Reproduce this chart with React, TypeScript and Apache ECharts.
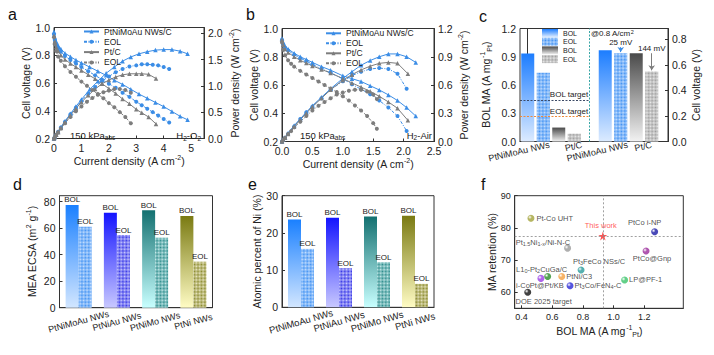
import React, { useEffect, useRef } from 'react';
import * as echarts from 'echarts';

const FONT = '"Liberation Sans", Arial, Helvetica, sans-serif';
const INK = '#222';
const BLUE = '#3b8de6';
const GRAY = '#7d7d7d';

// ---------- panel a : H2-O2 polarization / power ----------
const aBolI = [0, 0.03, 0.08, 0.15, 0.25, 0.4, 0.6, 0.8, 1.0, 1.3, 1.6, 1.9, 2.2, 2.5, 2.8, 3.1, 3.4, 3.7, 4.0, 4.3, 4.6, 4.87];
const aBolV = [0.97, 0.93, 0.9, 0.87, 0.845, 0.815, 0.79, 0.765, 0.745, 0.715, 0.685, 0.655, 0.62, 0.59, 0.555, 0.52, 0.49, 0.46, 0.43, 0.395, 0.36, 0.335];
const aBolP = [0, 0.03, 0.07, 0.13, 0.21, 0.33, 0.47, 0.61, 0.74, 0.93, 1.09, 1.24, 1.36, 1.47, 1.55, 1.61, 1.65, 1.68, 1.69, 1.69, 1.66, 1.61];
const aEolI = [0, 0.03, 0.08, 0.15, 0.25, 0.4, 0.6, 0.8, 1.0, 1.25, 1.5, 1.75, 2.0, 2.25, 2.5, 2.75, 3.0, 3.2, 3.4, 3.6, 3.8, 4.0, 4.2];
const aEolV = [0.95, 0.91, 0.875, 0.85, 0.825, 0.795, 0.765, 0.74, 0.715, 0.685, 0.655, 0.625, 0.595, 0.565, 0.53, 0.5, 0.465, 0.44, 0.415, 0.39, 0.365, 0.34, 0.315];
const aEolP = [0, 0.03, 0.07, 0.13, 0.21, 0.32, 0.46, 0.59, 0.71, 0.85, 0.98, 1.09, 1.18, 1.26, 1.32, 1.37, 1.39, 1.41, 1.41, 1.4, 1.39, 1.36, 1.32];
const aPtcI = [0, 0.03, 0.08, 0.15, 0.25, 0.4, 0.6, 0.8, 1.0, 1.25, 1.5, 1.75, 2.0, 2.25, 2.5, 2.75, 3.0, 3.2, 3.45, 3.72];
const aPtcV = [0.94, 0.9, 0.86, 0.83, 0.8, 0.77, 0.74, 0.715, 0.69, 0.66, 0.63, 0.595, 0.56, 0.525, 0.485, 0.45, 0.41, 0.385, 0.355, 0.305];
const aPtcP = [0, 0.03, 0.07, 0.12, 0.2, 0.31, 0.44, 0.57, 0.69, 0.82, 0.94, 1.04, 1.11, 1.17, 1.21, 1.23, 1.23, 1.23, 1.22, 1.14];
const aPtcEolI = [0, 0.03, 0.08, 0.15, 0.25, 0.4, 0.6, 0.8, 1.0, 1.2, 1.4, 1.6, 1.8, 2.0, 2.2, 2.4, 2.6, 2.8];
const aPtcEolV = [0.93, 0.88, 0.83, 0.79, 0.76, 0.72, 0.68, 0.645, 0.61, 0.58, 0.55, 0.52, 0.49, 0.455, 0.425, 0.39, 0.355, 0.31];
const aPtcEolP = [0, 0.03, 0.07, 0.12, 0.19, 0.29, 0.41, 0.52, 0.61, 0.7, 0.77, 0.83, 0.88, 0.91, 0.94, 0.94, 0.92, 0.87];

// ---------- panel b : H2-Air ----------
const bBolI = [0, 0.02, 0.05, 0.1, 0.2, 0.3, 0.4, 0.5, 0.65, 0.8, 1.0, 1.15, 1.3, 1.45, 1.6, 1.75, 1.9, 2.05, 2.2];
const bBolV = [0.93, 0.9, 0.875, 0.855, 0.825, 0.8, 0.78, 0.76, 0.73, 0.705, 0.665, 0.645, 0.625, 0.595, 0.565, 0.53, 0.49, 0.44, 0.38];
const bBolP = [0, 0.02, 0.04, 0.09, 0.17, 0.24, 0.31, 0.38, 0.47, 0.56, 0.67, 0.74, 0.81, 0.86, 0.9, 0.93, 0.93, 0.9, 0.84];
const bEolI = [0, 0.02, 0.05, 0.1, 0.2, 0.3, 0.4, 0.5, 0.65, 0.8, 1.0, 1.15, 1.3, 1.45, 1.6, 1.75, 1.9, 2.05];
const bEolV = [0.92, 0.89, 0.865, 0.845, 0.815, 0.79, 0.77, 0.745, 0.715, 0.685, 0.645, 0.605, 0.57, 0.535, 0.49, 0.44, 0.38, 0.275];
const bEolP = [0, 0.02, 0.04, 0.08, 0.16, 0.24, 0.31, 0.37, 0.46, 0.55, 0.64, 0.7, 0.74, 0.77, 0.78, 0.77, 0.72, 0.56];
const bPtcI = [0, 0.02, 0.05, 0.1, 0.2, 0.3, 0.4, 0.5, 0.65, 0.8, 1.0, 1.15, 1.3, 1.45, 1.6, 1.75, 1.9, 2.07];
const bPtcV = [0.92, 0.885, 0.855, 0.83, 0.8, 0.775, 0.755, 0.735, 0.71, 0.685, 0.645, 0.615, 0.585, 0.555, 0.52, 0.48, 0.435, 0.35];
const bPtcP = [0, 0.02, 0.04, 0.08, 0.16, 0.23, 0.3, 0.37, 0.46, 0.55, 0.65, 0.71, 0.76, 0.8, 0.83, 0.84, 0.83, 0.72];
const bPtcEolI = [0, 0.02, 0.05, 0.1, 0.15, 0.2, 0.3, 0.4, 0.5, 0.6, 0.7, 0.8, 0.9, 1.0, 1.1, 1.2, 1.3, 1.4, 1.5, 1.56];
const bPtcEolV = [0.9, 0.85, 0.81, 0.775, 0.75, 0.73, 0.7, 0.675, 0.65, 0.625, 0.6, 0.575, 0.55, 0.52, 0.49, 0.455, 0.42, 0.38, 0.33, 0.29];
const bPtcEolP = [0, 0.02, 0.04, 0.08, 0.11, 0.15, 0.21, 0.27, 0.33, 0.38, 0.42, 0.46, 0.5, 0.52, 0.54, 0.55, 0.55, 0.53, 0.5, 0.45];

// ---------- panel c ----------
const cGroups = ['PtNiMoAu NWs', 'Pt/C'];
const cMaBol = [0.935, 0.148];
const cMaEol = [0.73, 0.083];
const cVoltBol = [0.716, 0.692];
const cVoltEol = [0.691, 0.548];
const cTargets = [0.44, 0.264];
const cTargetNames = ['BOL target', 'EOL target'];
const cLossLabels = ['25 mV', '144 mV'];

// ---------- panels d / e ----------
const deCats = ['PtNiMoAu NWs', 'PtNiAu NWs', 'PtNiMo NWs', 'PtNi NWs'];
const dBol = [77.5, 71.7, 73.5, 69.2];
const dEol = [61.1, 54.8, 52.8, 34.7];
const eBol = [23.6, 24.1, 24.4, 24.6];
const eEol = [15.7, 10.5, 12.1, 6.3];

// ---------- panel f ----------
const fLabels = ['Pt-Co UHT', 'This work', 'PtCo i-NP', 'Pt{s|1.5}Ni{s|1-x}/Ni-N-C', 'PtCo@Gnp', 'Pt{s|3}FeCo NSs/C',
  'L1{s|0}-Pt{s|2}CuGa/C', 'PtNi/C3', 'i-CoPt@Pt/KB', 'Pt{s|3}Co/FeN{s|4}-C', 'LP@PF-1', 'DOE 2025 target'];
const fMA = [0.461, 0.93, 1.268, 0.70, 1.212, 0.788, 0.57, 0.662, 0.526, 0.716, 1.072, 0.44];
const fRet = [83, 77.5, 78.8, 73.7, 72.8, 66.9, 64.9, 64.9, 64.3, 62, 63.8, 60];
const fColors = ['#a3a33a', '#ff2a2a', '#1c1ca6', '#9a9a9a', '#9b2c9b', '#2a9c9c', '#2a8c2a', '#f5a040', '#9a40e6', '#2a2ad6', '#3ac46a', '#111111'];

const STAR = 'path://M50,0 L61,35 L98,35 L68,57 L79,91 L50,70 L21,91 L32,57 L2,35 L39,35 Z';

const grad = (top: string, bottom: string) => ({
  type: 'linear', x: 0, y: 0, x2: 0, y2: 1,
  colorStops: [{ offset: 0, color: top }, { offset: 1, color: bottom }],
});
const hatch = (c: string) => ({
  symbol: 'rect', symbolSize: 1, color: c,
  dashArrayX: [[1, 1], [0, 1, 1, 0]], dashArrayY: [1, 0], rotation: Math.PI / 4,
});
const ball = (c: string) => ({
  type: 'radial', x: 0.35, y: 0.35, r: 0.8,
  colorStops: [{ offset: 0, color: '#ffffff' }, { offset: 0.35, color: c }, { offset: 1, color: c }],
});
const pairs = (xs: number[], ys: number[]) => xs.map((x, k) => [x, ys[k]]);
const strip = (n: string) => n.split('|')[0];

function buildOption() {
  const rich = {
    sup: { fontSize: 7, verticalAlign: 'top', fontFamily: FONT, color: INK, lineHeight: 8 },
    sub: { fontSize: 7, verticalAlign: 'bottom', fontFamily: FONT, color: INK, lineHeight: 8 },
  };
  const nameStyle = { fontSize: 10.5, color: INK, fontFamily: FONT, lineHeight: 14, rich };
  const axLine = { show: true, lineStyle: { color: '#333', width: 1 } };
  const tick = (extra: any = {}) => ({ show: true, inside: true, length: 3, lineStyle: { color: '#333', width: 1 }, ...extra });
  const lbl = (extra: any = {}) => ({ color: INK, fontSize: 10.5, fontFamily: FONT, margin: 4, ...extra });
  const fix1 = (v: number) => v.toFixed(1);
  const common = { splitLine: { show: false }, axisLine: axLine, nameTextStyle: nameStyle, nameMoveOverlap: false };

  const grids = [
    { left: 54, top: 27.5, width: 150, height: 111 },
    { left: 282, top: 28.5, width: 152, height: 113 },
    { left: 520, top: 28.5, width: 148, height: 113 },
    { left: 59.5, top: 195.7, width: 153, height: 112 },
    { left: 282, top: 195.7, width: 152, height: 111.6 },
    { left: 514.7, top: 195.7, width: 168.6, height: 112.6 },
  ].map((g) => ({ ...g, show: true, borderColor: '#333', borderWidth: 1, backgroundColor: 'rgba(0,0,0,0)', containLabel: false, outerBoundsMode: 'none' }));

  const curName = 'Current density (A cm{sup|-2})';
  const aXt = [0, 1, 2, 3, 4, 5];
  const aRt = [0, 0.5, 1, 1.5, 2];
  const cLabelPos = [1.4, 3.5, 6.45, 8];
  const cLabelText = [cGroups[0], cGroups[1], cGroups[0], cGroups[1]];
  const fXt = [0.4, 0.6, 0.8, 1.0, 1.2];
  const fYt = [60, 70, 80, 90];
  const dYt = [0, 20, 40, 60, 80];
  const cRt = [0, 0.2, 0.4, 0.6, 0.8];

  const xAxis: any[] = [
    { ...common, type: 'value', gridIndex: 0, min: 0, max: 5.47, interval: 1,
      axisTick: tick({ customValues: aXt }), axisLabel: lbl({ customValues: aXt, formatter: (v: number) => String(v) }),
      name: curName, nameLocation: 'middle', nameGap: 15 },
    { ...common, type: 'value', gridIndex: 1, min: 0, max: 2.5, interval: 0.5,
      axisTick: tick(), axisLabel: lbl({ formatter: fix1 }),
      name: curName, nameLocation: 'middle', nameGap: 15 },
    { ...common, type: 'value', gridIndex: 2, min: -0.5, max: 9.05, interval: 0.5,
      axisTick: { show: false },
      axisLabel: lbl({ customValues: cLabelPos, rotate: 13, fontSize: 9, margin: 3,
        formatter: (v: number) => { const k = cLabelPos.findIndex((p) => Math.abs(p - v) < 1e-6); return k >= 0 ? cLabelText[k] : ''; } }) },
    { ...common, type: 'category', gridIndex: 3, data: deCats, axisTick: { show: false },
      axisLabel: lbl({ rotate: 15, interval: 0, align: 'center', verticalAlign: 'middle', margin: 14, fontSize: 9 }) },
    { ...common, type: 'category', gridIndex: 4, data: deCats, axisTick: { show: false },
      axisLabel: lbl({ rotate: 16, interval: 0, align: 'center', verticalAlign: 'middle', margin: 14, fontSize: 9.5 }) },
    { ...common, type: 'value', gridIndex: 5, min: 0.355, max: 1.455,
      axisTick: tick({ customValues: fXt }), axisLabel: lbl({ customValues: fXt, formatter: fix1, fontSize: 9 }),
      name: 'BOL MA (A mg{sup|-1}{sub|Pt})', nameLocation: 'middle', nameGap: 16 },
  ];

  const yAxis: any[] = [
    { ...common, type: 'value', gridIndex: 0, min: 0.2, max: 1.0, interval: 0.2, axisTick: tick(),
      axisLabel: lbl({ formatter: fix1 }), name: 'Cell voltage (V)', nameLocation: 'middle', nameRotate: 90, nameGap: 21 },
    { ...common, type: 'value', gridIndex: 0, position: 'right', min: 0, max: 2.11, interval: 0.5,
      axisTick: tick({ customValues: aRt }), axisLabel: lbl({ customValues: aRt, formatter: fix1 }),
      name: 'Power density (W cm{sup|-2})', nameLocation: 'middle', nameRotate: 90, nameGap: 24 },
    { ...common, type: 'value', gridIndex: 1, min: 0.2, max: 1.0, interval: 0.2, axisTick: tick(),
      axisLabel: lbl({ formatter: fix1 }), name: 'Cell voltage (V)', nameLocation: 'middle', nameRotate: 90, nameGap: 21 },
    { ...common, type: 'value', gridIndex: 1, position: 'right', min: 0, max: 1.2, interval: 0.3, axisTick: tick(),
      axisLabel: lbl({ formatter: fix1 }), name: 'Power density (W cm{sup|-2})', nameLocation: 'middle', nameRotate: 90, nameGap: 23 },
    { ...common, type: 'value', gridIndex: 2, min: 0, max: 1.2, interval: 0.3, axisTick: tick(),
      axisLabel: lbl({ formatter: fix1 }), name: 'BOL MA (A mg{sup|-1}{sub|Pt})', nameLocation: 'middle', nameRotate: 90, nameGap: 27 },
    { ...common, type: 'value', gridIndex: 2, position: 'right', min: 0, max: 0.886, interval: 0.2,
      axisTick: tick({ customValues: cRt }), axisLabel: lbl({ customValues: cRt, formatter: fix1 }),
      name: 'Cell voltage (V)', nameLocation: 'middle', nameRotate: 90, nameGap: 21 },
    { ...common, type: 'value', gridIndex: 3, min: 0, max: 84.5, interval: 20,
      axisTick: tick({ customValues: dYt }), axisLabel: lbl({ customValues: dYt }),
      name: 'MEA ECSA (m{sup|2} g{sup|-1})', nameLocation: 'middle', nameRotate: 90, nameGap: 21 },
    { ...common, type: 'value', gridIndex: 4, min: 0, max: 30, interval: 10, axisTick: tick(),
      axisLabel: lbl(), name: 'Atomic percent of Ni (%)', nameLocation: 'middle', nameRotate: 90, nameGap: 18 },
    { ...common, type: 'value', gridIndex: 5, min: 55, max: 90, interval: 5,
      axisTick: tick({ customValues: fYt }), axisLabel: lbl({ customValues: fYt, fontSize: 9 }),
      name: 'MA retention (%)', nameLocation: 'middle', nameRotate: 90, nameGap: 16 },
  ];

  const mkLine = (name: string, xi: number, yi: number, I: number[], Y: number[], color: string, eol: boolean, sym: string) => ({
    type: 'line', name, xAxisIndex: xi, yAxisIndex: yi, data: pairs(I, Y),
    symbol: sym, symbolSize: eol ? 4 : 4.5, showSymbol: true,
    lineStyle: { color, width: 1, type: eol ? [3, 1.5, 1, 1.5] : 'solid' },
    itemStyle: { color }, z: 3,
  });

  const series: any[] = [
    mkLine('PtNiMoAu NWs/C', 0, 0, aBolI, aBolV, BLUE, false, 'triangle'),
    mkLine('PtNiMoAu NWs/C', 0, 1, aBolI, aBolP, BLUE, false, 'triangle'),
    mkLine('EOL|a1', 0, 0, aEolI, aEolV, BLUE, true, 'circle'),
    mkLine('EOL|a1', 0, 1, aEolI, aEolP, BLUE, true, 'circle'),
    mkLine('Pt/C', 0, 0, aPtcI, aPtcV, GRAY, false, 'triangle'),
    mkLine('Pt/C', 0, 1, aPtcI, aPtcP, GRAY, false, 'triangle'),
    mkLine('EOL|a2', 0, 0, aPtcEolI, aPtcEolV, GRAY, true, 'circle'),
    mkLine('EOL|a2', 0, 1, aPtcEolI, aPtcEolP, GRAY, true, 'circle'),

    mkLine('PtNiMoAu NWs/C|b', 1, 2, bBolI, bBolV, BLUE, false, 'triangle'),
    mkLine('PtNiMoAu NWs/C|b', 1, 3, bBolI, bBolP, BLUE, false, 'triangle'),
    mkLine('EOL|b1', 1, 2, bEolI, bEolV, BLUE, true, 'circle'),
    mkLine('EOL|b1', 1, 3, bEolI, bEolP, BLUE, true, 'circle'),
    mkLine('Pt/C|b', 1, 2, bPtcI, bPtcV, GRAY, false, 'triangle'),
    mkLine('Pt/C|b', 1, 3, bPtcI, bPtcP, GRAY, false, 'triangle'),
    mkLine('EOL|b2', 1, 2, bPtcEolI, bPtcEolV, GRAY, true, 'circle'),
    mkLine('EOL|b2', 1, 3, bPtcEolI, bPtcEolP, GRAY, true, 'circle'),
  ];

  // panel c bars
  const cStyles = [
    { color: grad('#1c7dff', '#dcebff') },
    { color: '#cfe4ff', decal: hatch('#3a8ef2') },
    { color: grad('#4a4a4a', '#f2f2f2') },
    { color: '#eeeeee', decal: hatch('#9a9a9a') },
  ];
  const cNames = ['BOL|c1', 'EOL|c1', 'BOL|c2', 'EOL|c2'];
  const cMa = [cMaBol[0], cMaEol[0], cMaBol[1], cMaEol[1]];
  const cVolt = [cVoltBol[0], cVoltEol[0], cVoltBol[1], cVoltEol[1]];
  const dotted = (color: string) => ({ color, type: [2, 1.5], width: 1 });
  cNames.forEach((name, k) => {
    const ma: any = {
      type: 'bar', name, xAxisIndex: 2, yAxisIndex: 4, data: [[k, cMa[k]]],
      barWidth: 13, barGap: '-100%', itemStyle: cStyles[k],
    };
    if (k === 0) {
      ma.markLine = {
        silent: true, symbol: ['none', 'none'], animation: false,
        label: { show: true, position: 'insideEndTop', fontSize: 8, color: INK, distance: 1.5, fontFamily: FONT },
        data: [
          [{ coord: [-0.5, cTargets[0]], lineStyle: dotted('#3c4a66'), label: { formatter: cTargetNames[0] } }, { coord: [4, cTargets[0]] }],
          [{ coord: [-0.5, cTargets[1]], lineStyle: dotted('#f08a3a'), label: { formatter: cTargetNames[1] } }, { coord: [4, cTargets[1]] }],
          { xAxis: 4, lineStyle: dotted('#3aa6a6'), label: { show: false } },
        ],
      };
    }
    const volt: any = {
      type: 'bar', name, xAxisIndex: 2, yAxisIndex: 5, data: [[k + 5, cVolt[k]]],
      barWidth: 13, barGap: '-100%', itemStyle: cStyles[k],
    };
    if (k === 1 || k === 3) {
      const g = k === 1 ? 0 : 1;
      const x = k + 5;
      const y0 = cVoltBol[g] + (g === 0 ? 0.024 : 0);
      const y1 = cVoltEol[g] + 0.01;
      volt.markLine = {
        silent: true, symbol: ['none', 'arrow'], symbolSize: 5, animation: false,
        lineStyle: { color: g === 0 ? BLUE : GRAY, width: 1, type: 'solid' },
        label: { show: true, position: 'start', formatter: cLossLabels[g], fontSize: 8, color: INK, distance: 1, fontFamily: FONT },
        data: [[{ coord: [x, y0] }, { coord: [x, y1] }]],
      };
    }
    series.push(ma, volt);
  });

  // panels d, e
  const top = ['#1a80ff', '#1414ff', '#137070', '#7a7a12'];
  const bottom = ['#d2e6ff', '#c8c8ff', '#c8ffff', '#fffcc4'];
  const eolBase = ['#cfe4ff', '#d4d4ff', '#cdeeee', '#f0eccc'];
  const eolLine = ['#3a8ef2', '#3030e6', '#268888', '#88882a'];
  const barLabel = (t: string) => ({ show: true, position: 'top', formatter: t, fontSize: 8, color: INK, distance: 1, fontFamily: FONT });
  const deBars = (xi: number, yi: number, bol: number[], eol: number[]) => [
    { type: 'bar', name: 'BOL-' + xi, xAxisIndex: xi, yAxisIndex: yi, barWidth: 13, barGap: '0%',
      data: bol.map((v, k) => ({ value: v, itemStyle: { color: grad(top[k], bottom[k]) } })), label: barLabel('BOL') },
    { type: 'bar', name: 'EOL-' + xi, xAxisIndex: xi, yAxisIndex: yi, barWidth: 13, barGap: '0%',
      data: eol.map((v, k) => ({ value: v, itemStyle: { color: eolBase[k], decal: hatch(eolLine[k]) } })), label: barLabel('EOL') },
  ];
  series.push(...deBars(3, 6, dBol, dEol), ...deBars(4, 7, eBol, eEol));

  // panel f
  const fLay: any[] = [
    { position: 'right', distance: 2 },
    { position: 'top', distance: 1, offset: [-2, 0], color: '#ff3030' },
    { position: 'top', distance: 1, offset: [-10, 0] },
    { position: 'left', distance: 0, offset: [6, -6] },
    { position: 'bottom', distance: 0, offset: [6, -1] },
    { position: 'top', distance: 1, offset: [18, 0] },
    { position: 'top', distance: 0, offset: [-6, 1] },
    { position: 'right', distance: 1 },
    { position: 'bottom', distance: 0, offset: [-1, -1] },
    { position: 'right', distance: 1 },
    { position: 'right', distance: 1 },
    { position: 'bottom', distance: 1, offset: [16, 0] },
  ];
  series.push({
    type: 'scatter', name: 'f', xAxisIndex: 5, yAxisIndex: 8, z: 4,
    label: { show: true, fontSize: 7.5, color: INK, fontFamily: FONT, lineHeight: 9,
      rich: { s: { fontSize: 5.5, verticalAlign: 'bottom', fontFamily: FONT, color: INK, lineHeight: 9 } } },
    data: fMA.map((x, k) => ({
      value: [x, fRet[k]],
      symbol: k === 1 ? STAR : 'circle',
      symbolSize: k === 1 ? 9 : 7,
      itemStyle: { color: k === 1 ? fColors[k] : ball(fColors[k]) },
      label: { ...fLay[k], formatter: fLabels[k] },
    })),
    markLine: {
      silent: true, symbol: ['none', 'none'], animation: false, label: { show: false },
      lineStyle: { color: '#888', type: [2, 2], width: 0.8 },
      data: [{ yAxis: fRet[1] }, { xAxis: fMA[1] }],
    },
  });

  const legendText = { fontSize: 8.5, fontFamily: FONT, color: INK, lineHeight: 10 };
  const legend: any[] = [
    { left: 83, top: 26.5, orient: 'vertical', itemWidth: 15, itemHeight: 5, itemGap: 0.3, padding: 0,
      selectedMode: false, textStyle: legendText, formatter: strip,
      data: ['PtNiMoAu NWs/C', 'EOL|a1', 'Pt/C', 'EOL|a2'] },
    { left: 325, top: 28.3, orient: 'vertical', itemWidth: 15, itemHeight: 5, itemGap: 0, padding: 0,
      selectedMode: false, textStyle: legendText, formatter: strip,
      data: ['PtNiMoAu NWs/C|b', 'EOL|b1', 'Pt/C|b', 'EOL|b2'] },
    { left: 542, top: 29, orient: 'vertical', itemWidth: 16, itemHeight: 8, itemGap: 0.7, padding: 0, icon: 'rect',
      selectedMode: false, textStyle: { fontSize: 7, fontFamily: FONT, color: INK, lineHeight: 8 }, formatter: strip,
      data: cNames },
  ];

  const letter = (text: string, left: number, topPx: number) => ({
    text, left, top: topPx, padding: 0,
    textStyle: { fontSize: 16, fontWeight: 'normal', fontFamily: FONT, color: '#111' },
  });

  const gtext = (x: number, y: number, text: string, align: string, size = 9.5, lh = 12) => ({
    type: 'text', x, y, z: 10,
    style: { text, fill: INK, fontSize: size, fontFamily: FONT, align, verticalAlign: 'middle', textAlign: align,
      textVerticalAlign: 'middle', lineHeight: lh,
      rich: { sub: { fontSize: 6.5, verticalAlign: 'bottom', fontFamily: FONT, fill: INK, lineHeight: lh },
        sup: { fontSize: 5.5, verticalAlign: 'top', fontFamily: FONT, fill: INK, lineHeight: lh } } },
  });

  return {
    animation: false,
    backgroundColor: '#ffffff',
    textStyle: { fontFamily: FONT },
    title: [letter('a', 8, 6), letter('b', 246, 6), letter('c', 479, 8), letter('d', 13, 176), letter('e', 248, 176), letter('f', 481, 176)],
    grid: grids,
    xAxis,
    yAxis,
    legend,
    series,
    graphic: [
      gtext(70, 135, '150 kPa{sub|abs}', 'left'),
      gtext(201, 135.5, 'H{sub|2}-O{sub|2}', 'right'),
      gtext(300, 135, '150 kPa{sub|abs}', 'left'),
      gtext(432, 135, 'H{sub|2}-Air', 'right'),
      gtext(591, 33, '@0.8 A/cm{sup|2}', 'left', 8, 9),
    ],
  };
}

export default function App() {
  const ref = useRef<HTMLDivElement>(null);
  useEffect(() => {
    if (!ref.current) return;
    const chart = echarts.init(ref.current, null, { renderer: 'svg', width: 714, height: 355 });
    chart.setOption(buildOption() as any);
    return () => chart.dispose();
  }, []);
  return <div ref={ref} style={{ position: 'absolute', left: 0, top: 0, width: 714, height: 355, background: '#fff' }} />;
}
